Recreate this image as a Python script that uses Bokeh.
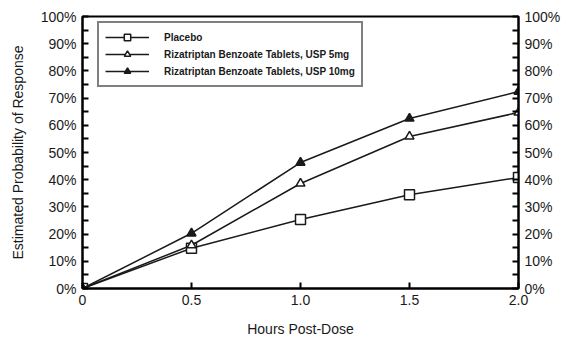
from bokeh.plotting import figure
from bokeh.models import LinearAxis, FixedTicker, CustomJSTickFormatter, Range1d, Legend, LegendItem
from bokeh.embed import file_html
from bokeh.resources import INLINE

hours = [0, 0.5, 1.0, 1.5, 2.0]
placebo = [0, 14.8, 25.4, 34.5, 40.8]
usp5 = [0, 15.9, 38.6, 55.9, 64.7]
usp10 = [0, 20.3, 46.3, 62.5, 72.4]
y_ticks = [0, 10, 20, 30, 40, 50, 60, 70, 80, 90, 100]
y_minor = [5, 15, 25, 35, 45, 55, 65, 75, 85, 95]
x_ticks = [0, 0.5, 1.0, 1.5, 2.0]
names = ["Placebo", "Rizatriptan Benzoate Tablets, USP 5mg", "Rizatriptan Benzoate Tablets, USP 10mg"]

FONT = "Liberation Sans"
C = "#1a1a1a"

p = figure(width=563, height=351, output_backend="svg", toolbar_location=None,
           x_range=Range1d(0, 2.0), y_range=Range1d(0, 100),
           min_border_left=82, min_border_right=45, min_border_top=16, min_border_bottom=63)
p.xgrid.visible = False
p.ygrid.visible = False
p.outline_line_color = "black"
p.outline_line_width = 2
p.background_fill_color = "white"

yfmt = CustomJSTickFormatter(code="return tick.toFixed(0) + '%';")
xfmt = CustomJSTickFormatter(code="return tick == 0 ? '0' : tick.toFixed(1);")

def style_axis(ax):
    ax.axis_line_width = 2
    ax.axis_line_color = "black"
    ax.major_tick_in = 6
    ax.major_tick_out = 0
    ax.minor_tick_in = 6
    ax.minor_tick_out = 0
    ax.major_tick_line_width = 2
    ax.minor_tick_line_width = 2
    ax.major_label_text_font = FONT
    ax.major_label_text_font_size = "14px"
    ax.major_label_text_color = C
    ax.axis_label_text_font = FONT
    ax.axis_label_text_font_size = "14px"
    ax.axis_label_text_font_style = "normal"
    ax.axis_label_text_color = C

yax = p.yaxis[0]
yax.ticker = FixedTicker(ticks=y_ticks, minor_ticks=y_minor)
yax.formatter = yfmt
yax.axis_label = "Estimated Probability of Response"
style_axis(yax)
yax.major_label_standoff = 6
yax.axis_label_standoff = 12

ry = LinearAxis(ticker=FixedTicker(ticks=y_ticks, minor_ticks=y_minor), formatter=yfmt)
style_axis(ry)
ry.major_label_standoff = 6
p.add_layout(ry, "right")

xax = p.xaxis[0]
xax.ticker = FixedTicker(ticks=x_ticks)
xax.formatter = xfmt
xax.axis_label = "Hours Post-Dose"
style_axis(xax)
xax.major_label_standoff = 6
xax.axis_label_standoff = 13

l0 = p.line(hours, placebo, line_color=C, line_width=1.5)
s0 = p.scatter(hours, placebo, marker="square", size=10, fill_color="white", line_color=C, line_width=1.5)
l1 = p.line(hours, usp5, line_color=C, line_width=1.5)
s1 = p.scatter(hours, usp5, marker="triangle", size=9, fill_color="white", line_color=C, line_width=1.5)
l2 = p.line(hours, usp10, line_color=C, line_width=1.5)
s2 = p.scatter(hours, usp10, marker="triangle", size=9, fill_color=C, line_color=C, line_width=1.5)

legend = Legend(items=[LegendItem(label=names[0], renderers=[l0, s0]),
                       LegendItem(label=names[1], renderers=[l1, s1]),
                       LegendItem(label=names[2], renderers=[l2, s2])],
                location=(15, 201))
legend.margin = 0
legend.padding = 6
legend.spacing = 1
legend.glyph_width = 44
legend.glyph_height = 16
legend.label_height = 16
legend.label_standoff = 15
legend.label_text_font = FONT
legend.label_text_font_size = "10px"
legend.label_text_font_style = "bold"
legend.label_text_color = C
legend.border_line_color = "black"
legend.border_line_width = 2
legend.background_fill_alpha = 1
p.add_layout(legend, "center")

open("out.html", "w").write(file_html(p, INLINE))
